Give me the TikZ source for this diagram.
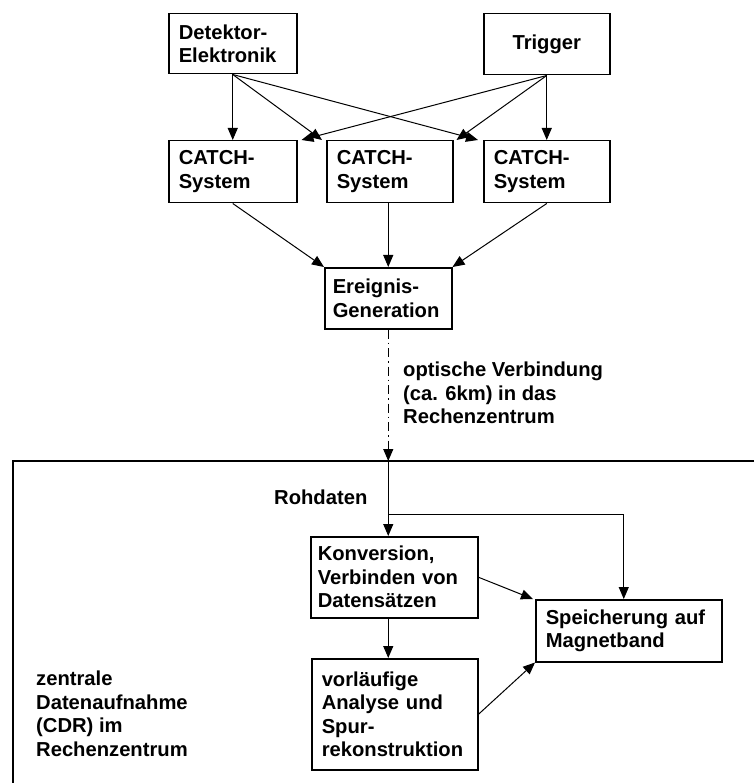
\documentclass[tikz,border=0pt]{standalone}
\usepackage{fontspec}
\newfontfamily\lab{Liberation Sans}[UprightFont=* Bold]
\usetikzlibrary{arrows.meta,calc}
\begin{document}
\begin{tikzpicture}[x=1pt,y=-1pt,
  txt/.style={font=\lab\fontsize{20.2}{23.5}\selectfont},
  box/.style={txt,draw,line width=1.5pt,anchor=north west,inner xsep=10pt,inner ysep=0pt,align=left},
  lbl/.style={txt,inner sep=0pt,align=left,anchor=west},
  arr/.style={line width=1pt,-{Triangle[length=12pt,width=10pt]}},
  link/.style={line width=1.1pt,dash pattern=on 9pt off 4pt on 1.5pt off 4pt,-{Triangle[length=12pt,width=10pt]}},
  frame/.style={line width=1.3pt}
]
\useasboundingbox (0,0) rectangle (754,783);

% boxes
\node[box,text width=108pt,minimum height=60pt] (det) at (168,13) {Detektor-\\Elektronik};
\node[box,text width=106pt,minimum height=61pt,align=center] (trig) at (483,13) {Trigger};
\node[box,text width=108pt,minimum height=62pt] (c1) at (168,140) {CATCH-\\System};
\node[box,text width=106pt,minimum height=62pt] (c2) at (326,140) {CATCH-\\System};
\node[box,text width=106pt,minimum height=62pt] (c3) at (483,140) {CATCH-\\System};
\node[box,text width=111pt,minimum height=61pt,inner xsep=8pt] (ev) at (324,267) {Ereignis-\\Generation};
\node[box,text width=153pt,minimum height=81pt,inner xsep=7pt] (conv) at (310,536) {Konversion,\\Verbinden von\\Datensätzen};
\node[box,text width=166pt,minimum height=62pt] (stor) at (535,599) {Speicherung auf\\Magnetband};
\node[box,text width=146pt,minimum height=111pt] (ana) at (311,658) {vorläufige\\Analyse und\\Spur-\\rekonstruktion};

% labels
\node[lbl] (opt) at (403,393) {optische Verbindung\\(ca. 6km) in das\\Rechenzentrum};
\node[lbl] (roh) at (274,497) {Rohdaten};
\node[lbl] (zen) at (36,714) {zentrale\\Datenaufnahme\\(CDR) im\\Rechenzentrum};

% frame of the computing centre
\coordinate (ftl) at (13,461);
\coordinate (ftr) at (754,461);
\coordinate (fbl) at (13,783);
\draw[frame] (ftr) -- (ftl) -- (fbl);

% upper connectors
\draw[arr] (det.south) -- (c1.north);
\draw[arr] (det.south) -- ([xshift=-4pt]c2.north west);
\draw[arr] (det.south) -- ([xshift=-5pt]c3.north west);
\draw[arr] (trig.south) -- ([xshift=4pt]c1.north east);
\draw[arr] (trig.south) -- ([xshift=3pt]c2.north east);
\draw[arr] (trig.south) -- (c3.north);

\draw[arr] (c1.south) -- (ev.north west);
\draw[arr] (ev.north |- c2.south) -- (ev.north);
\draw[arr] (c3.south) -- (ev.north east);

% optical link
\coordinate (entry) at (ev.south |- ftl);
\draw[link] (ev.south) -- (entry);

% inside the computing centre
\coordinate (br) at ($(entry)+(0,53)$);
\draw[arr] (entry) -- (entry |- conv.north);
\draw[arr] (br) -| ([xshift=-5pt]stor.north);
\draw[arr] (conv.east) -- ([xshift=-2pt]stor.north west);
\draw[arr] (entry |- conv.south) -- (entry |- ana.north);
\draw[arr] (ana.east) -- (stor.south west);
\end{tikzpicture}
\end{document}
